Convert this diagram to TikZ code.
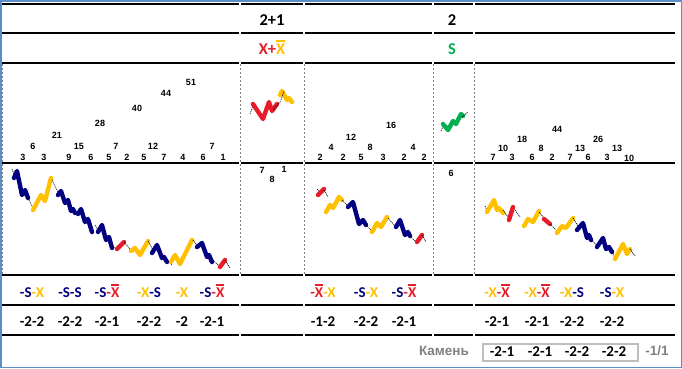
\documentclass[tikz,border=0pt]{standalone}
\usepackage{fontspec}
\setmainfont{Carlito}
\newfontfamily\arialf{Liberation Sans}
\definecolor{navyc}{RGB}{0,0,128}
\definecolor{yelc}{RGB}{255,192,0}
\definecolor{redc}{RGB}{232,28,40}
\definecolor{grnc}{RGB}{0,176,80}
\definecolor{framec}{RGB}{91,142,201}
\definecolor{grayt}{RGB}{128,128,128}
\definecolor{boxc}{RGB}{190,190,190}
\newsavebox\xbbox
\newcommand\xb{\sbox\xbbox{X}\rlap{\raisebox{\dimexpr\ht\xbbox+1.3pt\relax}{\rule{\wd\xbbox}{1.7pt}}}\usebox\xbbox}
\newcommand\cN[1]{\textcolor{navyc}{#1}}
\newcommand\cY[1]{\textcolor{yelc}{#1}}
\newcommand\cR[1]{\textcolor{redc}{#1}}
\tikzset{
  hl/.style={line width=2.3pt, black},
  vl/.style={gray, dash pattern=on 2pt off 2pt, line width=0.6pt},
  wv/.style={line width=4.4pt, line cap=round, line join=round},
  tl/.style={black, line width=0.6pt, dash pattern=on 1.2pt off 0.8pt},
  num/.style={font=\arialf\bfseries\fontsize{9}{9}\selectfont, inner sep=0},
  lab/.style={font=\bfseries\fontsize{15}{15}\selectfont, inner sep=0, anchor=base},
  hdr/.style={font=\bfseries\fontsize{16.5}{16.5}\selectfont, inner sep=0, anchor=base},
  grt/.style={font=\arialf\bfseries\fontsize{13.5}{13.5}\selectfont, text=grayt, inner sep=0},
}
\begin{document}
\begin{tikzpicture}[x=1pt,y=-1pt]
\useasboundingbox (0,0) rectangle (682,368);
\draw[framec, line width=1.5pt] (0.75,0.75) rectangle (681.25,367.25);
% horizontal rules
\foreach \yy in {4,33,63,163,275,305,335}{
  \foreach \a/\b in {2/239,241/303,305/432,434/473,475/675}{
    \draw[hl] (\a,\yy) -- (\b,\yy);
  }
}
% dashed verticals
\foreach \xx in {2,240,304,433,474}{
  \draw[vl] (\xx,64) -- (\xx,274);
}
% headers
\node[hdr] (h1) at (272,25) {2+1};
\node[hdr] (h2) at (452,25) {2};
\node[hdr] (h3) at (272,54) {\cR{X+}\cY{\xb}};
\node[hdr, text=grnc] (h4) at (452,54) {S};
% numbers column 1
\foreach \x/\y/\t [count=\i] in {23/157/3,33/146/6,44/157/3,57/135/21,69/157/9,79/146/15,91/157/6,100/123/28,109/157/5,116/146/7,127/157/2,137/108/40,144/157/5,153/146/12,164/157/7,166/93/44,183/157/4,191/82/51,203/157/6,212/146/7,223/157/1}{
  \node[num] (a\i) at (\x,\y) {\t};
}
% numbers column 3
\foreach \x/\y/\t [count=\i] in {320/157/2,331/147/4,343/157/2,351/137/12,361/157/5,370/147/8,383/157/3,391/125/16,404/157/2,413/147/4,424/157/2}{
  \node[num] (b\i) at (\x,\y) {\t};
}
% numbers column 5
\foreach \x/\y/\t [count=\i] in {493/157/7,503/148/10,512/157/3,522/139/18,532/157/6,541/148/8,552/157/2,557/129/44,570/157/7,580/148/13,588/157/6,598/139/26,607/157/3,617/148/13,629/158/10}{
  \node[num] (c\i) at (\x,\y) {\t};
}
% numbers row 2
\node[num] (d1) at (262,170) {7};
\node[num] (d2) at (272,179) {8};
\node[num] (d3) at (284,169) {1};
\node[num] (d4) at (451,173) {6};
% waves column 1
\draw[tl] (12,169) -- (15,177);
\draw[wv,navyc] (14,178) -- (17,171) -- (22,195) -- (25,190) -- (28,198);
\draw[tl] (28,198) -- (33,208);
\draw[wv,yelc] (33,210) -- (41,195) -- (45,201) -- (51,178);
\draw[tl] (52,180) -- (58,192);
\draw[wv,navyc] (58,195) -- (61,191) -- (65,203) -- (68,200) -- (71,211) -- (73,209) -- (75,213);
\draw[tl] (75,210) -- (79,216);
\draw[wv,navyc] (78,214) -- (81,209) -- (85,222) -- (88,219) -- (92,232);
\draw[tl] (95,225) -- (99,233);
\draw[wv,navyc] (98,232) -- (102,225) -- (106,240) -- (109,237) -- (112,248);
\draw[tl] (112,246) -- (117,250);
\draw[wv,redc] (117,249) -- (124,242);
\draw[tl] (124,242) -- (130,249);
\draw[wv,yelc] (131,251) -- (135,248) -- (140,255) -- (148,241);
\draw[tl] (148,241) -- (153,250);
\draw[wv,navyc] (152,253) -- (157,245) -- (162,258) -- (164,257) -- (167,262);
\draw[tl] (167,260) -- (172,265);
\draw[wv,yelc] (171,262) -- (175,255) -- (180,264) -- (192,240);
\draw[tl] (193,240) -- (199,248);
\draw[wv,navyc] (197,247) -- (202,243) -- (207,257) -- (209,255) -- (212,262);
\draw[tl] (213,260) -- (220,267);
\draw[wv,redc] (220,267) -- (225,260);
\draw[tl] (225,260) -- (230,268);
% waves column 2
\draw[tl] (250,114) -- (254,103);
\draw[wv,redc] (253,104) -- (263,119) -- (269,102) -- (272,111) -- (277,104);
\draw[tl] (273,110) -- (281,101);
\draw[wv,yelc] (280,95) -- (282,91) -- (287,100) -- (289,98) -- (292,102);
\draw[tl] (281,100) -- (284,91);
% waves column 3
\draw[tl] (317,189) -- (321,194);
\draw[wv,redc] (318,195) -- (324,189);
\draw[tl] (324,190) -- (328,197);
\draw[wv,yelc] (326,212) -- (330,205) -- (333,208) -- (339,197) -- (342,200);
\draw[tl] (342,200) -- (348,206);
\draw[wv,navyc] (348,207) -- (353,202) -- (359,224) -- (363,220) -- (366,225);
\draw[tl] (366,225) -- (372,231);
\draw[wv,yelc] (372,232) -- (377,223) -- (381,227) -- (387,217);
\draw[tl] (388,218) -- (395,226);
\draw[wv,navyc] (396,227) -- (400,220) -- (405,235) -- (408,232) -- (410,236);
\draw[tl] (410,236) -- (416,242);
\draw[wv,redc] (417,242) -- (422,235);
\draw[tl] (422,235) -- (426,242);
% waves column 4
\draw[tl] (441,131) -- (444,124);
\draw[wv,grnc] (443,124) -- (448,130) -- (453,121) -- (456,124) -- (461,114) -- (463,116);
\draw[tl] (462,117) -- (468,112);
% waves column 5
\draw[tl] (485,206) -- (488,213);
\draw[wv,yelc] (487,212) -- (494,200) -- (497,210) -- (499,208) -- (503,213);
\draw[tl] (503,210) -- (508,217);
\draw[wv,redc] (509,220) -- (513,207);
\draw[tl] (515,210) -- (520,217);
\draw[wv,yelc] (524,226) -- (528,219) -- (533,222) -- (539,211);
\draw[tl] (539,212) -- (544,218);
\draw[wv,redc] (544,219) -- (550,224);
\draw[tl] (550,224) -- (556,230);
\draw[wv,yelc] (557,233) -- (562,226) -- (566,228) -- (573,218);
\draw[tl] (573,218) -- (578,226);
\draw[wv,navyc] (577,230) -- (583,223) -- (587,238) -- (589,235) -- (591,240);
\draw[tl] (591,240) -- (597,245);
\draw[wv,navyc] (597,247) -- (603,238) -- (606,249) -- (609,247) -- (612,252);
\draw[tl] (612,252) -- (615,258);
\draw[wv,yelc] (615,259) -- (623,244) -- (627,254) -- (630,249);
\draw[tl] (630,249) -- (635,256);
% label row
\node[lab] (l1) at (32,297) {\cN{-S}\cY{-X}};
\node[lab] (l2) at (70,297) {\cN{-S-S}};
\node[lab] (l3) at (107,297) {\cN{-S}\cR{-\xb}};
\node[lab] (l4) at (149,297) {\cY{-X}\cN{-S}};
\node[lab] (l5) at (182,297) {\cY{-X}};
\node[lab] (l6) at (212,297) {\cN{-S}\cR{-\xb}};
\node[lab] (l7) at (323,297) {\cR{-\xb}\cY{-X}};
\node[lab] (l8) at (366,297) {\cN{-S}\cY{-X}};
\node[lab] (l9) at (404,297) {\cN{-S}\cR{-\xb}};
\node[lab] (l10) at (497,297) {\cY{-X}\cR{-\xb}};
\node[lab] (l11) at (537,297) {\cY{-X}\cR{-\xb}};
\node[lab] (l12) at (572,297) {\cY{-X}\cN{-S}};
\node[lab] (l13) at (612,297) {\cN{-S}\cY{-X}};
% code row
\foreach \x/\t [count=\i] in {32/-2-2,70/-2-2,107/-2-1,149/-2-2,182/-2,212/-2-1,323/-1-2,366/-2-2,404/-2-1,497/-2-1,537/-2-1,572/-2-2,612/-2-2}{
  \node[lab] (k\i) at (\x,326) {\t};
}
% bottom
\node[grt] (km) at (444,351) {Камень};
\draw[boxc, line width=1.5pt] (483,344) rectangle (638,361);
\foreach \x/\t [count=\i] in {502/-2-1,540/-2-1,577/-2-2,614/-2-2}{
  \node[lab] (s\i) at (\x,356.5) {\t};
}
\node[grt] (fr) at (657,351) {-1/1};
\end{tikzpicture}
\end{document}
